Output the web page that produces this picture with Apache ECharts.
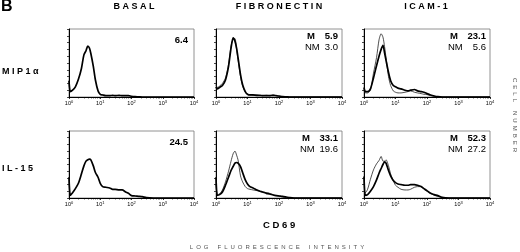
<!DOCTYPE html>
<html>
<head>
<meta charset="utf-8">
<script src="https://cdn.jsdelivr.net/npm/echarts@6/dist/echarts.min.js"></script>
<style>
  html, body { margin: 0; padding: 0; background: #fff; }
  #chart { width: 520px; height: 252px; }
</style>
</head>
<body>
<div id="chart"></div>
<script>
// fluorescence bins (log scale) shared by all histograms
var bins = [1, 1.1, 1.3, 1.6, 2, 2.5, 3, 3.5, 4, 4.5, 5, 6, 7, 8.5, 10, 12, 15, 20, 25, 30, 40, 50, 65, 80, 100, 130, 170, 220, 300, 500, 1000, 10000];

// cell number, % of panel height
var mipBasal  = [24, 8, 10, 15, 26, 42, 62, 68, 75, 72, 64, 45, 25, 9, 4, 3, 2, 2, 2.5, 2, 2.5, 2, 2, 2, 1, 0.5, 0.3, 0, 0, 0, 0, 0];
var mipFnM    = [15, 12, 14, 17, 25, 45, 72, 87, 82, 72, 58, 33, 18, 8, 4, 3, 3, 2.5, 2.5, 2, 2, 2, 2.5, 2, 1.5, 0.5, 0.3, 0, 0, 0, 0, 0];
var mipFnNM   = [18, 14, 16, 20, 28, 48, 75, 85, 86, 70, 55, 30, 16, 7, 4, 3, 2.5, 3, 2, 2, 2.5, 2, 3, 2, 1, 0.5, 0, 0, 0, 0, 0, 0];
var mipIcamM  = [14, 8, 8, 12, 28, 46, 60, 70, 76, 65, 54, 36, 24, 17, 15, 13, 12, 10, 9, 10, 11, 9, 8, 7, 5, 3, 1.5, 0.5, 0, 0, 0, 0];
var mipIcamNM = [10, 6, 6, 10, 35, 58, 84, 93, 88, 74, 58, 30, 17, 9, 7, 6, 6, 7, 8, 9, 7, 6, 5, 4, 3.5, 2, 1, 0, 0, 0, 0, 0];
var ilBasal   = [31, 4, 8, 14, 22, 36, 48, 55, 57, 58, 57, 48, 38, 31, 22, 17, 16, 15, 13, 13, 12, 12, 9, 7, 3.5, 3, 2.5, 2, 0.5, 0, 0, 0];
var ilFnM     = [31, 4, 5, 9, 19, 31, 41, 47, 52, 53, 52, 47, 38, 27, 21, 17, 15, 12, 10, 9, 7, 6, 4.5, 3.5, 3, 2.5, 1.5, 0.5, 0, 0, 0, 0];
var ilFnNM    = [20, 5, 6, 12, 24, 40, 55, 66, 70, 64, 57, 33, 24, 17, 14, 13, 12, 11, 10, 9, 8, 7, 5, 4, 3, 1.5, 0.5, 0, 0, 0, 0, 0];
var ilIcamM   = [32, 4, 5, 10, 17, 27, 37, 44, 50, 54, 52, 41, 33, 26, 23, 21, 20, 19, 19, 20, 20, 19, 17, 14, 11, 7, 5, 3.5, 1, 0, 0, 0];
var ilIcamNM  = [8, 8, 13, 28, 42, 51, 56, 62, 55, 55, 57, 48, 36, 26, 19, 16, 13, 12, 12, 13, 16, 17, 17, 13, 10, 7, 4, 2.5, 0.5, 0, 0, 0];

var columns = ['BASAL', 'FIBRONECTIN', 'ICAM-1'];
var rows = ['MIP1α', 'IL-15'];
var thickSets = [mipBasal, mipFnM, mipIcamM, ilBasal, ilFnM, ilIcamM];
var thinSets = [null, mipFnNM, mipIcamNM, null, ilFnNM, ilIcamNM];
var mValues = ['6.4', '5.9', '23.1', '24.5', '33.1', '52.3'];
var nmValues = [null, '3.0', '5.6', null, '19.6', '27.2'];
var xTicks = [1, 10, 100, 1000, 10000];

// panel boxes
var colLeft = [69, 216, 364], colWidth = [125, 126, 126];
var rowTop = [29, 131], rowHeight = [68, 67];

var FONT = '"Liberation Sans", Arial, sans-serif';

function pairs(vals) {
  return bins.map(function (b, i) { return [b, vals[i]]; });
}

function spaced(s, sep) { return s.split('').join(sep); }

function label(x, y, text, font, opts) {
  opts = opts || {};
  return {
    type: 'text', x: x, y: y, rotation: opts.rotation || 0, z: 10,
    style: {
      text: text, font: font, fill: opts.fill || '#000',
      textAlign: opts.align || 'left', textVerticalAlign: 'middle'
    }
  };
}

var grids = [], xAxes = [], yAxes = [], series = [], graphics = [];

for (var p = 0; p < 6; p++) {
  var r = Math.floor(p / 3), c = p % 3;
  grids.push({
    left: colLeft[c], top: rowTop[r], width: colWidth[c], height: rowHeight[r],
    show: true, borderColor: '#777', borderWidth: 0.8
  });
  xAxes.push({
    gridIndex: p, type: 'log', logBase: 10, min: xTicks[0], max: xTicks[xTicks.length - 1],
    axisLine: { lineStyle: { color: '#000', width: 1.2 } },
    axisTick: { length: 2, lineStyle: { color: '#000', width: 0.8 } },
    minorTick: { show: true, splitNumber: 9, length: 1.5, lineStyle: { color: '#000', width: 0.6 } },
    splitLine: { show: false },
    axisLabel: {
      margin: 3, color: '#000', fontFamily: FONT,
      formatter: function (v) {
        var e = Math.round(Math.log(v) / Math.LN10);
        return '{a|10}{b|' + e + '}';
      },
      rich: {
        a: { fontSize: 5.5, fontFamily: FONT, color: '#000' },
        b: { fontSize: 4, fontFamily: FONT, color: '#000', padding: [0, 0, 3, 0] }
      }
    }
  });
  yAxes.push({
    gridIndex: p, type: 'value', min: 0, max: 100, interval: 10,
    axisLine: { show: true, lineStyle: { color: '#000', width: 1 } },
    axisTick: { show: true, length: 2, lineStyle: { color: '#000', width: 0.7 } },
    axisLabel: { show: false },
    splitLine: { show: false }
  });
  if (thinSets[p]) {
    series.push({
      type: 'line', name: 'NM', xAxisIndex: p, yAxisIndex: p, data: pairs(thinSets[p]),
      showSymbol: false, smooth: 0.25, lineStyle: { color: '#222', width: 0.8 }, z: 2
    });
  }
  series.push({
    type: 'line', name: 'M', xAxisIndex: p, yAxisIndex: p, data: pairs(thickSets[p]),
    showSymbol: false, smooth: 0.25, lineStyle: { color: '#000', width: 1.7 }, z: 3
  });

  // panel annotations
  var boxRight = colLeft[c] + colWidth[c] - 4;
  var boxTop = rowTop[r];
  if (nmValues[p]) {
    var lx = boxRight - (mValues[p].length > 3 ? 36 : 31);
    graphics.push(label(lx, boxTop + 7, 'M', 'bold 9.5px ' + FONT));
    graphics.push(label(boxRight, boxTop + 7, mValues[p], 'bold 9.5px ' + FONT, { align: 'right' }));
    graphics.push(label(lx - 2, boxTop + 18, 'NM', '9.5px ' + FONT));
    graphics.push(label(boxRight, boxTop + 18, nmValues[p], '9.5px ' + FONT, { align: 'right' }));
  } else {
    graphics.push(label(boxRight - 2, boxTop + 11, mValues[p], 'bold 9.5px ' + FONT, { align: 'right' }));
  }
}

graphics.push(label(1, 7, 'B', 'bold 16px ' + FONT));
var colCenters = [134, 279, 426];
columns.forEach(function (t, i) {
  graphics.push(label(colCenters[i], 7, spaced(t, ' '), 'bold 9px ' + FONT, { align: 'center' }));
});
var rowCenters = [72, 169];
rows.forEach(function (t, i) {
  graphics.push(label(2, rowCenters[i], spaced(t, ' '), 'bold 9px ' + FONT));
});
graphics.push(label(263, 225, spaced('CD69', ' '), 'bold 9.5px ' + FONT));
graphics.push(label(277, 247, 'LOG FLUORESCENCE INTENSITY'.split(' ').map(function (w) { return spaced(w, '\u2002'); }).join('\u2002\u2002\u2002'), '6px ' + FONT, { align: 'center', fill: '#555' }));
graphics.push(label(515, 115, 'CELL NUMBER'.split(' ').map(function (w) { return spaced(w, '\u2002'); }).join('\u2002\u2002\u2002'), '6px ' + FONT, { align: 'center', fill: '#555', rotation: -Math.PI / 2 }));

var chart = echarts.init(document.getElementById('chart'), null, { renderer: 'canvas' });
chart.setOption({
  animation: false,
  backgroundColor: '#fff',
  grid: grids,
  xAxis: xAxes,
  yAxis: yAxes,
  series: series,
  graphic: graphics
});
</script>
</body>
</html>
